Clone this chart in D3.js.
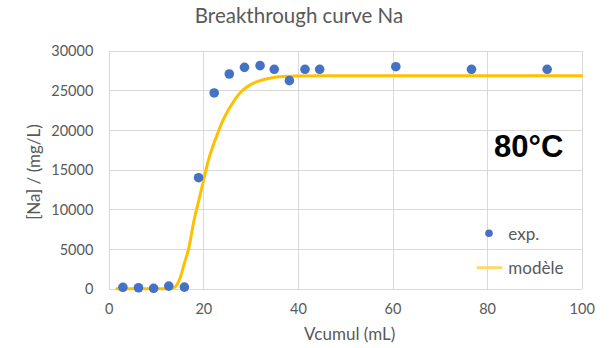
<!DOCTYPE html>
<html>
<head>
<meta charset="utf-8">
<script src="https://cdn.jsdelivr.net/npm/d3@7"></script>
<style>
  html, body { margin: 0; padding: 0; background: #fff; }
  svg { display: block; }
  text { font-family: Lato, "Open Sans", sans-serif; fill: #595959; }
</style>
</head>
<body>
<script>
// Measured breakthrough points: cumulative volume (mL) and Na concentration (mg/L)
const expV  = [3.0, 6.3, 9.5, 12.7, 16.0, 19.0, 22.3, 25.5, 28.7, 32.0, 35.0, 38.2, 41.5, 44.6, 60.7, 76.7, 92.7];
const expNa = [180, 120, 50, 330, 200, 13980, 24650, 27040, 27880, 28090, 27630, 26200, 27630, 27630, 27960, 27630, 27630];

// Fitted model curve
const modelV  = [1.7, 5, 10, 13, 14, 15, 16, 17, 18, 19, 20, 21, 22, 23, 24, 25, 26, 27, 28, 29, 30, 32, 34, 36, 40, 50, 100];
const modelNa = [0, 0, 0, 30, 200, 1200, 3200, 5300, 8500, 11000, 13500, 16000, 17900, 19500, 21000, 22200, 23200, 24100, 24800, 25300, 25700, 26200, 26500, 26700, 26800, 26820, 26820];

const xTicks = [0, 20, 40, 60, 80, 100];
const yTicks = [0, 5000, 10000, 15000, 20000, 25000, 30000];

const W = 616, H = 348;
const svg = d3.select("body").append("svg").attr("width", W).attr("height", H);

const x = d3.scaleLinear().domain([0, 100]).range([108.7, 581.7]);
const y = d3.scaleLinear().domain([0, 30000]).range([288.7, 50.5]);

// Grid
const grid = svg.append("g").attr("stroke", "#d9d9d9").attr("stroke-width", 1).attr("shape-rendering", "crispEdges");
grid.selectAll("line.h").data(yTicks).join("line")
  .attr("x1", x(0)).attr("x2", x(100))
  .attr("y1", d => Math.round(y(d)) + 0.5).attr("y2", d => Math.round(y(d)) + 0.5);
grid.selectAll("line.v").data(xTicks).join("line")
  .attr("y1", y(0)).attr("y2", y(30000))
  .attr("x1", d => Math.round(x(d)) + 0.5).attr("x2", d => Math.round(x(d)) + 0.5);

// Axes (labels only, Excel style)
const xAxis = d3.axisBottom(x).tickValues(xTicks).tickSize(0).tickPadding(0).tickFormat(d3.format("d"));
const gx = svg.append("g").attr("transform", `translate(0,${y(0)})`).call(xAxis);
gx.select(".domain").remove();
gx.selectAll("text").attr("dy", null).attr("y", 25.6).style("font-size", "14.5px").attr("fill", "#595959")
  .style("font-family", "Lato, sans-serif");

const yAxis = d3.axisLeft(y).tickValues(yTicks).tickSize(0).tickPadding(0).tickFormat(d3.format("d"));
const gy = svg.append("g").attr("transform", `translate(93.3,0)`).call(yAxis);
gy.select(".domain").remove();
gy.selectAll("text").attr("x", 0).attr("dy", "0.36em").style("font-size", "14.5px").attr("fill", "#595959")
  .style("font-family", "Lato, sans-serif");

// Model line
const line = d3.line().x(d => x(d[0])).y(d => y(d[1])).curve(d3.curveMonotoneX);
svg.append("path")
  .datum(modelV.map((v, i) => [v, modelNa[i]]))
  .attr("fill", "none").attr("stroke", "#FFC000").attr("stroke-width", 3)
  .attr("stroke-linejoin", "round").attr("stroke-linecap", "round")
  .attr("d", line);

// Experimental points
svg.append("g").selectAll("circle").data(expV.map((v, i) => [v, expNa[i]])).join("circle")
  .attr("cx", d => x(d[0])).attr("cy", d => y(d[1])).attr("r", 4.8).attr("fill", "#4472C4");

// Title
svg.append("text").attr("x", 299).attr("y", 22.7).attr("text-anchor", "middle")
  .style("font-size", "20.5px").text("Breakthrough curve Na");

// Axis titles
svg.append("text").attr("x", 349.7).attr("y", 339.5).attr("text-anchor", "middle")
  .style("font-size", "17px").text("Vcumul (mL)");
svg.append("text").attr("transform", "translate(39.5,172) rotate(-90)").attr("text-anchor", "middle")
  .style("font-size", "17px").text("[Na] / (mg/L)");

// Temperature annotation
svg.append("text").attr("x", 494).attr("y", 156.7)
  .style("font-family", "'Liberation Sans', Arial, sans-serif").style("font-weight", "bold")
  .style("font-size", "31px").style("fill", "#000").text("80°C");

// Legend
const lg = svg.append("g");
lg.append("circle").attr("cx", 489).attr("cy", 233.3).attr("r", 3.8).attr("fill", "#4472C4");
lg.append("text").attr("x", 508.3).attr("y", 240).style("font-size", "17px").text("exp.");
lg.append("line").attr("x1", 476.7).attr("x2", 502.3).attr("y1", 267.7).attr("y2", 267.7)
  .attr("stroke", "#FFD966").attr("stroke-width", 3);
lg.append("text").attr("x", 508.3).attr("y", 274.3).style("font-size", "17px").text("modèle");
</script>
</body>
</html>
